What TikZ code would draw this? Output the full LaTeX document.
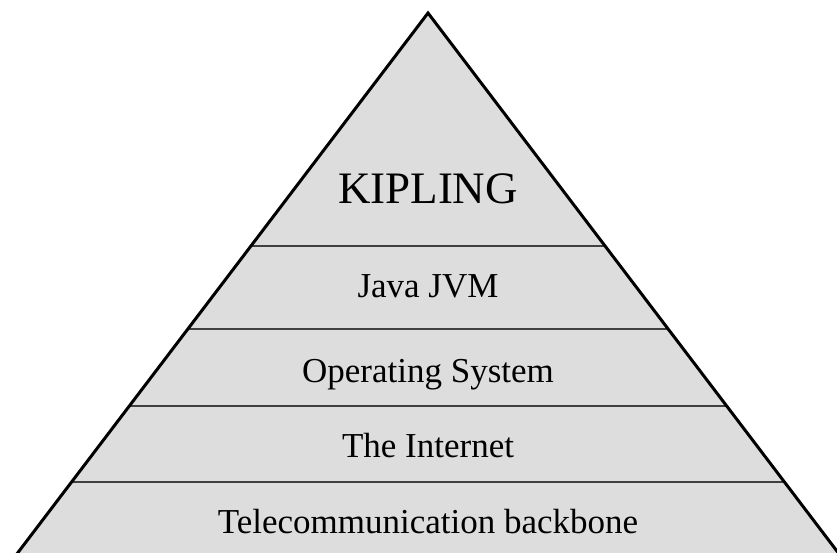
\documentclass[tikz,border=0pt]{standalone}
\usepackage{fontspec}
\setmainfont{Liberation Serif}
\definecolor{layerfill}{RGB}{221,221,221}
\definecolor{sepline}{RGB}{64,64,64}
\begin{document}
\begin{tikzpicture}[x=1pt,y=-1pt,
  edge/.style={draw=black,line width=3pt,line join=miter},
  sep/.style={draw=sepline,line width=1.5pt},
  lbl/.style={anchor=base,font=\fontsize{35}{40}\selectfont,inner sep=0pt},
  title/.style={anchor=base,font=\fontsize{45}{50}\selectfont,inner sep=0pt}]
\useasboundingbox (0,0) rectangle (837,552);
\clip (0,0) rectangle (837,552);
\coordinate (apex) at (428,13);
\coordinate (bl) at (-28,613);
\coordinate (br) at (884,613);
\fill[layerfill] (apex) -- (br) -- (bl) -- cycle;
\coordinate (s1l) at (250.9,246); \coordinate (s1r) at (605.1,246);
\coordinate (s2l) at (187.8,329); \coordinate (s2r) at (668.2,329);
\coordinate (s3l) at (129.3,406); \coordinate (s3r) at (726.7,406);
\coordinate (s4l) at (71.6,482);  \coordinate (s4r) at (784.4,482);
\draw[sep] (s1l) -- (s1r);
\draw[sep] (s2l) -- (s2r);
\draw[sep] (s3l) -- (s3r);
\draw[sep] (s4l) -- (s4r);
\draw[edge] (bl) -- (apex) -- (br);
\node[title] (kipling) at (428,203) {KIPLING};
\node[lbl] (java) at (428,297) {Java JVM};
\node[lbl] (os) at (428,382) {Operating System};
\node[lbl] (inet) at (428,457) {The Internet};
\node[lbl] (tele) at (428,533) {Telecommunication backbone};
\end{tikzpicture}
\end{document}
